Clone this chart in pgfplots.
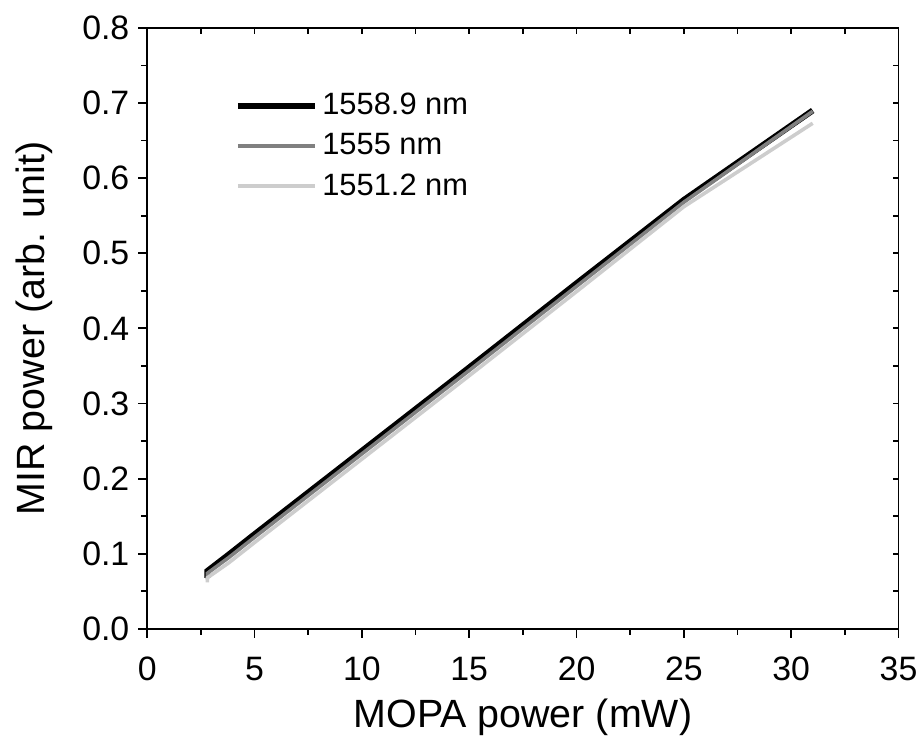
\documentclass[border=0pt]{standalone}
\usepackage{pgfplots}
\pgfplotsset{compat=1.18}
\usepackage{fontspec}
\setmainfont{Liberation Sans}
\definecolor{midgray}{RGB}{128,128,128}
\definecolor{lightgr}{RGB}{205,205,205}
\begin{document}
\begin{tikzpicture}
\pgfplotsset{
  common/.style={
    scale only axis, width=377.5pt, height=302pt,
    xmin=0, xmax=35, ymin=0, ymax=0.8,
    /pgf/number format/assume math mode=true,
  }
}
% top/right frame with inward ticks
\begin{axis}[common,
  axis x line*=top, axis y line*=right,
  xtick={0,2.5,...,35}, ytick={0,0.05,...,0.8},
  xticklabels={}, yticklabels={},
  tick align=inside, major tick length=3pt,
  axis line style={line width=0.9pt}, every tick/.style={line width=0.9pt, black},
]
\end{axis}
\begin{axis}[common, name=main,
  axis x line*=bottom, axis y line*=left,
  axis line style={line width=0.9pt, -},
  every tick/.style={line width=0.9pt, black},
  tick align=outside, major tick length=4.5pt, minor tick length=3pt,
  xtick={0,5,...,35}, minor xtick={2.5,7.5,...,32.5},
  ytick={0,0.1,...,0.8}, minor ytick={0.05,0.15,...,0.75},
  yticklabel style={/pgf/number format/fixed, /pgf/number format/fixed zerofill, /pgf/number format/precision=1},
  ticklabel style={font=\fontsize{17}{20}\selectfont},
  xticklabel style={yshift=-6pt},
  yticklabel style={xshift=-1pt},
  xlabel={MOPA power (mW)}, ylabel={MIR power (arb. unit)},
  label style={font=\fontsize{19.8}{23}\selectfont},
  xlabel style={at={(axis description cs:0.5,-0.147)}, anchor=center},
  ylabel style={at={(axis description cs:-0.1497,0.5)}, anchor=center},
  legend style={at={(axis description cs:0.108,0.905)}, anchor=north west, draw=none, fill=none,
    font=\fontsize{15.5}{18}\selectfont, row sep=4pt,
    /tikz/every even column/.append style={column sep=1pt}},
  legend cell align=left,
  legend image code/.code={\draw[#1] (0cm,0cm) -- (39pt,0cm);},
]
\addplot[black, line width=3pt] coordinates {
(2.8,0.068) (2.8,0.077) (3.8,0.099) (5,0.126) (10,0.237) (15,0.348) (20,0.460) (25,0.571) (31,0.690)
};
\addlegendentry{1558.9 nm}
\addplot[midgray, line width=1.8pt] coordinates {
(2.8,0.066) (2.8,0.074) (3.8,0.095) (5,0.122) (10,0.233) (15,0.344) (20,0.456) (25,0.568) (31,0.689)
};
\addlegendentry{1555 nm}
\addplot[lightgr, line width=1.8pt] coordinates {
(2.8,0.062) (2.8,0.068) (3.8,0.088) (5,0.115) (10,0.226) (15,0.337) (20,0.449) (25,0.562) (31,0.673)
};
\addlegendentry{1551.2 nm}
\end{axis}
\path ([xshift=-74pt,yshift=-54pt]main.south west) rectangle ([xshift=10.5pt,yshift=14pt]main.north east);
\end{tikzpicture}
\end{document}
